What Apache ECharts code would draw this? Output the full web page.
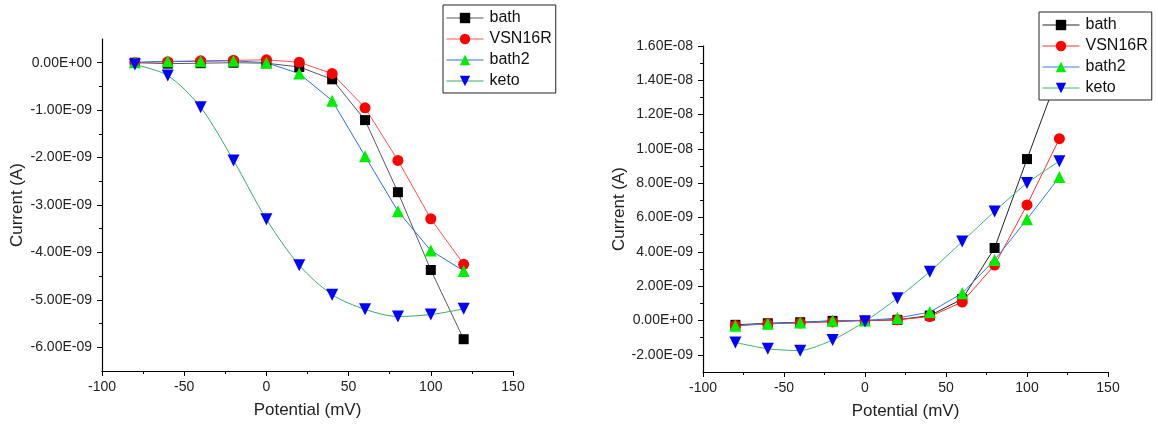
<!DOCTYPE html>
<html>
<head>
<meta charset="utf-8">
<script src="https://cdn.jsdelivr.net/npm/echarts@6/dist/echarts.min.js"></script>
<style>
  html, body { margin: 0; padding: 0; background: #fff; }
  #chart { width: 1157px; height: 429px; }
</style>
</head>
<body>
<div id="chart"></div>
<script>
// potential (mV), shared by both panels
const potential = [-80, -60, -40, -20, 0, 20, 40, 60, 80, 100, 120]
const seriesNames = ['bath', 'VSN16R', 'bath2', 'keto']

// currents in units of 1E-09 A
// left panel
const leftBath   = [0, -0.02, -0.01, 0, -0.01, -0.09, -0.35, -1.21, -2.73, -4.37, -5.83]
const leftVsn    = [0, 0.02, 0.04, 0.05, 0.06, 0.01, -0.23, -0.95, -2.06, -3.29, -4.25]
const leftBath2  = [0.01, 0.03, 0.03, 0.04, 0, -0.23, -0.80, -1.97, -3.13, -3.96, -4.39]
const leftKeto   = [-0.04, -0.27, -0.94, -2.06, -3.30, -4.27, -4.89, -5.20, -5.35, -5.31, -5.19]
// right panel
const rightBath  = [-0.25, -0.16, -0.10, -0.02, 0, 0.04, 0.29, 1.25, 4.23, 9.41, 14.5]
const rightVsn   = [-0.29, -0.19, -0.14, -0.08, 0, 0.04, 0.23, 1.08, 3.23, 6.74, 10.6]
const rightBath2 = [-0.31, -0.19, -0.12, -0.02, 0, 0.14, 0.49, 1.59, 3.53, 5.90, 8.36]
const rightKeto  = [-1.28, -1.65, -1.76, -1.14, -0.06, 1.30, 2.85, 4.60, 6.36, 8.01, 9.29]

// tick labels
const leftYTicks  = [-6, -5, -4, -3, -2, -1, 0]
const leftYMinor  = [-5.5, -4.5, -3.5, -2.5, -1.5, -0.5]
const rightYTicks = [-2, 0, 2, 4, 6, 8, 10, 12, 14, 16]
const rightYMinor = [-1, 1, 3, 5, 7, 9, 11, 13, 15]

const markerColors = ['#000000', '#ff0000', '#00ee00', '#0000ff']
const symbols = ['rect', 'circle', 'triangle', 'triangle']
const symbolSizes = [10, 11, 12, 12]
const symbolRotates = [0, 0, 0, 180]
const leftLineColors = ['#5a5a5a', '#ff5050', '#2f6fe0', '#3aaa6a']
const rightLineColors = ['#222222', '#ff3030', '#3a7be0', '#3cb371']

function sciLabel(v) {
  if (Math.abs(v) < 1e-9) return '0.00E+00'
  const [m, e] = (v * 1e-9).toExponential(2).split('e')
  const n = parseInt(e, 10)
  return m + 'E' + (n < 0 ? '-' : '+') + String(Math.abs(n)).padStart(2, '0')
}

const textColor = '#222'
const font = 'Arial, "Liberation Sans", sans-serif'

function xAxis(gridIndex) {
  return {
    type: 'value', gridIndex, min: -100, max: 150, interval: 50,
    name: 'Potential (mV)', nameLocation: 'middle', nameGap: 31,
    nameTextStyle: { fontSize: 17, color: textColor, fontFamily: font },
    axisLine: { show: true, onZero: false, lineStyle: { color: '#000', width: 1.2 } },
    axisTick: { show: true, length: 5, lineStyle: { color: '#000' } },
    minorTick: { show: true, splitNumber: 2, length: 3, lineStyle: { color: '#000' } },
    axisLabel: { fontSize: 14, color: textColor, fontFamily: font, margin: 9 },
    splitLine: { show: false }
  }
}

function yAxis(gridIndex, min, max, ticks, gap) {
  return {
    type: 'value', gridIndex, min, max, position: 'left',
    name: 'Current (A)', nameLocation: 'middle', nameGap: gap,
    nameTextStyle: { fontSize: 17, color: textColor, fontFamily: font },
    axisLine: { show: true, onZero: false, lineStyle: { color: '#000', width: 1.2 } },
    axisTick: { show: true, length: 5, customValues: ticks, lineStyle: { color: '#000' } },
    axisLabel: { fontSize: 14, color: textColor, fontFamily: font, margin: 10,
      customValues: ticks, formatter: sciLabel },
    splitLine: { show: false }
  }
}

// overlay axis that only draws the short minor ticks
function minorAxis(gridIndex, min, max, ticks) {
  return {
    type: 'value', gridIndex, min, max, position: 'left',
    axisLine: { show: false, onZero: false },
    axisTick: { show: true, length: 3, customValues: ticks, lineStyle: { color: '#000' } },
    axisLabel: { show: false },
    splitLine: { show: false }
  }
}

function makeSeries(values, i, axisIdx, lineColors, smoothKeto) {
  return {
    name: seriesNames[i], type: 'line',
    xAxisIndex: axisIdx, yAxisIndex: axisIdx * 2,
    data: potential.map((p, k) => [p, values[k]]),
    symbol: symbols[i], symbolSize: symbolSizes[i], symbolRotate: symbolRotates[i],
    smooth: i === 3 ? smoothKeto : false,
    showAllSymbol: true,
    lineStyle: { color: lineColors[i], width: 1 },
    itemStyle: { color: markerColors[i] },
    emphasis: { disabled: true },
    animation: false
  }
}

function legend(left, top, lineColors) {
  return {
    orient: 'vertical', left, top,
    backgroundColor: '#fff', borderColor: '#222', borderWidth: 1, borderRadius: 0,
    padding: [5, 4, 4, 3], itemGap: 5, itemWidth: 37, itemHeight: 13,
    textStyle: { fontSize: 16, color: '#111', fontFamily: font, padding: [0, 0, 0, 1] },
    data: seriesNames.map((n, i) => ({ name: n, lineStyle: { color: lineColors[i], width: 1 } })),
    selectedMode: false
  }
}

const chart = echarts.init(document.getElementById('chart'))
chart.setOption({
  animation: false,
  backgroundColor: '#fff',
  grid: [
    { left: 102, right: 644, top: 39, bottom: 58, containLabel: false },
    { left: 703, right: 49, top: 46, bottom: 57, containLabel: false }
  ],
  legend: [legend(443, 5, leftLineColors), legend(1039, 12, rightLineColors)],
  xAxis: [xAxis(0), xAxis(1)],
  yAxis: [
    yAxis(0, -6.5, 0.5, leftYTicks, 76),
    minorAxis(0, -6.5, 0.5, leftYMinor),
    yAxis(1, -3, 16, rightYTicks, 75),
    minorAxis(1, -3, 16, rightYMinor)
  ],
  series: [
    makeSeries(leftBath, 0, 0, leftLineColors, 0.3),
    makeSeries(leftVsn, 1, 0, leftLineColors, 0.3),
    makeSeries(leftBath2, 2, 0, leftLineColors, 0.3),
    makeSeries(leftKeto, 3, 0, leftLineColors, 0.3),
    makeSeries(rightBath, 0, 1, rightLineColors, 0.2),
    makeSeries(rightVsn, 1, 1, rightLineColors, 0.2),
    makeSeries(rightBath2, 2, 1, rightLineColors, 0.2),
    makeSeries(rightKeto, 3, 1, rightLineColors, 0.2)
  ]
})
</script>
</body>
</html>
